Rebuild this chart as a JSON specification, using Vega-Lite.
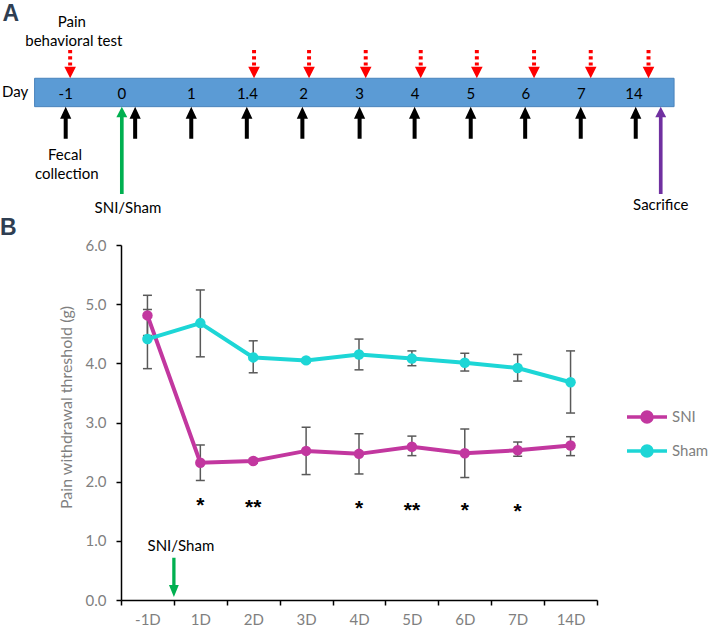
{
  "$schema": "https://vega.github.io/schema/vega-lite/v6.json",
  "padding": 0,
  "spacing": 0,
  "background": "white",
  "config": {"view": {"stroke": null}, "font": "Lato"},
  "datasets": {
    "bar": [{"pos": -0.56, "pos2": 10.95, "y": 0, "y2": 1}],
    "dayLabels": [
      {"pos": 0, "y": 0.45, "t": "-1"},
      {"pos": 1.01, "y": 0.45, "t": "0"},
      {"pos": 2.26, "y": 0.45, "t": "1"},
      {"pos": 3.27, "y": 0.45, "t": "1.4"},
      {"pos": 4.28, "y": 0.45, "t": "2"},
      {"pos": 5.29, "y": 0.45, "t": "3"},
      {"pos": 6.29, "y": 0.45, "t": "4"},
      {"pos": 7.29, "y": 0.45, "t": "5"},
      {"pos": 8.28, "y": 0.45, "t": "6"},
      {"pos": 9.28, "y": 0.45, "t": "7"},
      {"pos": 10.23, "y": 0.45, "t": "14"}
    ],
    "redArrows": [
      {"pos": 0.08, "y": 1.498}, {"pos": 3.39, "y": 1.498}, {"pos": 4.38, "y": 1.498},
      {"pos": 5.4, "y": 1.498}, {"pos": 6.39, "y": 1.498}, {"pos": 7.4, "y": 1.498},
      {"pos": 8.43, "y": 1.498}, {"pos": 9.45, "y": 1.498}, {"pos": 10.49, "y": 1.498}
    ],
    "blackArrows": [
      {"pos": 0, "y": -0.563}, {"pos": 1.25, "y": -0.563}, {"pos": 2.26, "y": -0.563},
      {"pos": 3.26, "y": -0.563}, {"pos": 4.26, "y": -0.563}, {"pos": 5.29, "y": -0.563},
      {"pos": 6.28, "y": -0.563}, {"pos": 7.29, "y": -0.563}, {"pos": 8.27, "y": -0.563},
      {"pos": 9.27, "y": -0.563}, {"pos": 10.26, "y": -0.563}
    ],
    "notes": [
      {"pos": -0.91, "y": 0.52, "t": "Day"},
      {"pos": 0.11, "y": 2.99, "t": "Pain"},
      {"pos": 0.146, "y": 2.32, "t": "behavioral test"},
      {"pos": -0.013, "y": -1.7, "t": "Fecal"},
      {"pos": 0.02, "y": -2.37, "t": "collection"},
      {"pos": 1.12, "y": -3.57, "t": "SNI/Sham"},
      {"pos": 10.71, "y": -3.46, "t": "Sacrifice"}
    ],
    "series": [
      {"group": "SNI", "day": "-1D", "mean": 4.81, "lo": 4.47, "hi": 5.15},
      {"group": "SNI", "day": "1D", "mean": 2.32, "lo": 2.02, "hi": 2.62},
      {"group": "SNI", "day": "2D", "mean": 2.35, "lo": 2.31, "hi": 2.39},
      {"group": "SNI", "day": "3D", "mean": 2.52, "lo": 2.12, "hi": 2.92},
      {"group": "SNI", "day": "4D", "mean": 2.47, "lo": 2.13, "hi": 2.81},
      {"group": "SNI", "day": "5D", "mean": 2.59, "lo": 2.44, "hi": 2.77},
      {"group": "SNI", "day": "6D", "mean": 2.48, "lo": 2.07, "hi": 2.89},
      {"group": "SNI", "day": "7D", "mean": 2.53, "lo": 2.43, "hi": 2.67},
      {"group": "SNI", "day": "14D", "mean": 2.61, "lo": 2.44, "hi": 2.76},
      {"group": "Sham", "day": "-1D", "mean": 4.41, "lo": 3.91, "hi": 4.91},
      {"group": "Sham", "day": "1D", "mean": 4.68, "lo": 4.11, "hi": 5.24},
      {"group": "Sham", "day": "2D", "mean": 4.1, "lo": 3.84, "hi": 4.38},
      {"group": "Sham", "day": "3D", "mean": 4.05, "lo": 4.02, "hi": 4.08},
      {"group": "Sham", "day": "4D", "mean": 4.15, "lo": 3.89, "hi": 4.41},
      {"group": "Sham", "day": "5D", "mean": 4.08, "lo": 3.96, "hi": 4.21},
      {"group": "Sham", "day": "6D", "mean": 4.01, "lo": 3.87, "hi": 4.17},
      {"group": "Sham", "day": "7D", "mean": 3.92, "lo": 3.7, "hi": 4.15},
      {"group": "Sham", "day": "14D", "mean": 3.68, "lo": 3.16, "hi": 4.21}
    ],
    "stars": [
      {"day": "1D", "y": 1.48, "t": "*"},
      {"day": "2D", "y": 1.45, "t": "**"},
      {"day": "4D", "y": 1.43, "t": "*"},
      {"day": "5D", "y": 1.4, "t": "**"},
      {"day": "6D", "y": 1.4, "t": "*"},
      {"day": "7D", "y": 1.38, "t": "*"}
    ],
    "surgery": [{"day": "-1D", "y": 0.383, "ty": 0.92, "t": "SNI/Sham"}]
  },
  "vconcat": [
    {
      "width": 578,
      "height": 216,
      "encoding": {
        "x": {"field": "pos", "type": "quantitative", "scale": {"domain": [0.9953, 11.3987], "nice": false, "zero": false}, "axis": null},
        "y": {"field": "y", "type": "quantitative", "scale": {"domain": [-3.85, 3.756], "nice": false, "zero": false}, "axis": null}
      },
      "layer": [
        {
          "data": {"name": "bar"},
          "mark": {"type": "rect", "fill": "#5B9BD5", "stroke": "#4A84BC", "strokeWidth": 1, "clip": false},
          "encoding": {"x2": {"field": "pos2"}, "y2": {"field": "y2"}}
        },
        {
          "data": {"name": "dayLabels"},
          "mark": {"type": "text", "fontSize": 15, "color": "#000000", "baseline": "middle", "align": "center"},
          "encoding": {"text": {"field": "t"}}
        },
        {
          "data": {"name": "redArrows"},
          "mark": {"type": "point", "filled": true, "opacity": 1, "color": "#FF0000", "size": 801,
                   "shape": "M-0.14,-1H0.14V-0.76H-0.14Z M-0.14,-0.56H0.14V-0.33H-0.14Z M-0.14,-0.12H0.14V0.1H-0.14Z M-0.41,0.18H0.41L0,1Z"}
        },
        {
          "data": {"name": "blackArrows"},
          "mark": {"type": "point", "filled": true, "opacity": 1, "color": "#000000", "size": 1024,
                   "shape": "M0,-1L0.35,-0.25H0.125V1H-0.125V-0.25H-0.35Z"}
        },
        {
          "data": {"values": [{"pos": 1.01, "y": -1.537}]},
          "mark": {"type": "point", "filled": true, "opacity": 1, "color": "#00B050", "size": 7621,
                   "shape": "M0,-1L0.125,-0.755H0.042V1H-0.042V-0.755H-0.125Z"}
        },
        {
          "data": {"values": [{"pos": 10.71, "y": -1.537}]},
          "mark": {"type": "point", "filled": true, "opacity": 1, "color": "#7030A0", "size": 7621,
                   "shape": "M0,-1L0.125,-0.755H0.042V1H-0.042V-0.755H-0.125Z"}
        },
        {
          "data": {"name": "notes"},
          "mark": {"type": "text", "fontSize": 15, "color": "#000000", "baseline": "middle", "align": "center"},
          "encoding": {"text": {"field": "t"}}
        },
        {
          "data": {"values": [{"pos": -0.99, "y": 3.02, "t": "A"}]},
          "mark": {"type": "text", "fontSize": 23, "font": "Liberation Sans", "fontWeight": "bold", "color": "#2F3E52", "baseline": "alphabetic", "align": "center"},
          "encoding": {"text": {"field": "t"}}
        }
      ]
    },
    {
      "width": 476,
      "height": 355,
      "title": {"text": "B", "anchor": "start", "frame": "group", "dx": -121, "dy": 2, "offset": 0, "fontSize": 23, "font": "Liberation Sans", "fontWeight": "bold", "color": "#2F3E52"},
      "layer": [
        {
          "data": {"name": "series"},
          "mark": {"type": "rule", "color": "#595959", "strokeWidth": 1.5},
          "encoding": {
            "x": {"field": "day", "type": "ordinal", "bandPosition": 0.5,
                  "scale": {"type": "band", "domain": ["-1D", "1D", "2D", "3D", "4D", "5D", "6D", "7D", "14D"], "paddingInner": 0, "paddingOuter": 0},
                  "axis": {"title": null, "tickBand": "extent", "labelAngle": 0, "labelColor": "#7F7F7F", "labelFontSize": 15, "labelPadding": 7,
                           "domainColor": "#000000", "domainWidth": 1.5, "tickColor": "#000000", "tickWidth": 1.5, "tickSize": 5, "grid": false}},
            "y": {"field": "lo", "type": "quantitative", "title": "Pain withdrawal threshold (g)",
                  "scale": {"domain": [0, 6], "nice": false},
                  "axis": {"values": [0, 1, 2, 3, 4, 5, 6], "format": ".1f", "grid": false, "labelColor": "#7F7F7F", "labelFontSize": 15, "labelPadding": 10,
                           "domainColor": "#000000", "domainWidth": 1.5, "tickColor": "#000000", "tickWidth": 1.5, "tickSize": 5,
                           "titleColor": "#7F7F7F", "titleFontSize": 16, "titleFontWeight": "normal", "titleX": -55, "titleY": 162, "titleBaseline": "middle", "titleAlign": "center"}},
            "y2": {"field": "hi"}
          }
        },
        {
          "data": {"name": "series"},
          "mark": {"type": "tick", "color": "#595959", "thickness": 1.5, "size": 9, "opacity": 1},
          "encoding": {
            "x": {"field": "day", "type": "ordinal", "bandPosition": 0.5},
            "y": {"field": "lo", "type": "quantitative"}
          }
        },
        {
          "data": {"name": "series"},
          "mark": {"type": "tick", "color": "#595959", "thickness": 1.5, "size": 9, "opacity": 1},
          "encoding": {
            "x": {"field": "day", "type": "ordinal", "bandPosition": 0.5},
            "y": {"field": "hi", "type": "quantitative"}
          }
        },
        {
          "data": {"name": "series"},
          "mark": {"type": "line", "strokeWidth": 4},
          "encoding": {
            "x": {"field": "day", "type": "ordinal", "bandPosition": 0.5},
            "y": {"field": "mean", "type": "quantitative"},
            "color": {"field": "group", "type": "nominal",
                      "scale": {"domain": ["SNI", "Sham"], "range": ["#C2379F", "#1DD6D6"]},
                      "legend": {"title": null, "orient": "none", "legendX": 514, "legendY": 405, "padding": 0,
                                 "symbolType": "M-2,0L2,0M0.5,0A0.5,0.5,0,1,1,-0.5,0A0.5,0.5,0,1,1,0.5,0Z",
                                 "symbolSize": 400, "symbolStrokeWidth": 3.5, "labelOffset": 13, "labelFontSize": 15,
                                 "labelColor": "#7F7F7F", "rowPadding": 10,
                                 "encode": {"symbols": {"update": {"fill": {"scale": "color", "field": "value"}, "stroke": {"scale": "color", "field": "value"}, "opacity": {"value": 1}}}}}}
          }
        },
        {
          "data": {"name": "series"},
          "mark": {"type": "point", "filled": true, "opacity": 1, "size": 110},
          "encoding": {
            "x": {"field": "day", "type": "ordinal", "bandPosition": 0.5},
            "y": {"field": "mean", "type": "quantitative"},
            "color": {"field": "group", "type": "nominal"}
          }
        },
        {
          "data": {"name": "stars"},
          "mark": {"type": "text", "fontSize": 21, "font": "Liberation Sans", "fontWeight": "bold", "color": "#000000", "baseline": "alphabetic"},
          "encoding": {
            "x": {"field": "day", "type": "ordinal", "bandPosition": 0.5},
            "y": {"field": "y", "type": "quantitative"},
            "text": {"field": "t"}
          }
        },
        {
          "data": {"name": "surgery"},
          "mark": {"type": "text", "fontSize": 15, "color": "#000000", "baseline": "middle", "dx": 7},
          "encoding": {
            "x": {"field": "day", "type": "ordinal", "bandPosition": 1},
            "y": {"field": "ty", "type": "quantitative"},
            "text": {"field": "t"}
          }
        },
        {
          "data": {"name": "surgery"},
          "mark": {"type": "point", "filled": true, "opacity": 1, "color": "#00B050", "size": 1544,
                   "shape": "M-0.084,-1H0.084V0.39H0.25L0,1L-0.25,0.39H-0.084Z"},
          "encoding": {
            "x": {"field": "day", "type": "ordinal", "bandPosition": 1},
            "y": {"field": "y", "type": "quantitative"}
          }
        }
      ]
    }
  ]
}
